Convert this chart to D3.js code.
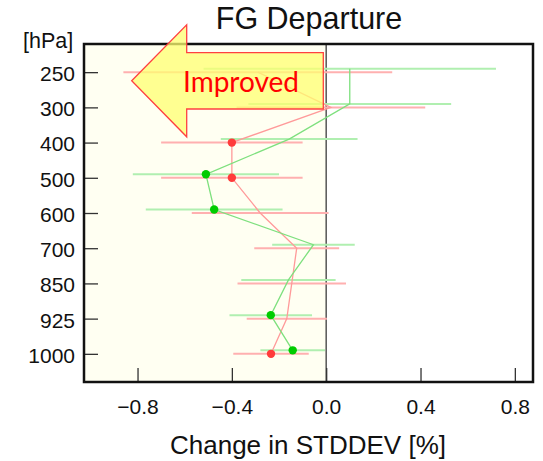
<!DOCTYPE html>
<html>
<head>
<meta charset="utf-8">
<script src="https://cdn.jsdelivr.net/npm/d3@7"></script>
<style>
  html, body { margin: 0; padding: 0; background: #fff; }
  svg { display: block; font-family: "Liberation Sans", Arial, sans-serif; }
</style>
</head>
<body>
<svg id="chart" width="543" height="461"></svg>
<script>
// ---- data ----
const levels = [250, 300, 400, 500, 600, 700, 850, 925, 1000];
const redMean  = [-0.29, 0.02, -0.40, -0.40, -0.28, -0.125, -0.146, -0.167, -0.234];
const redErr   = [0.57, 0.40, 0.30, 0.30, 0.29, 0.18, 0.23, 0.17, 0.16];
const redSig   = [0, 0, 1, 1, 0, 0, 0, 0, 1];
const greenMean = [0.10, 0.10, -0.157, -0.51, -0.475, -0.054, -0.16, -0.235, -0.142];
const greenErr  = [0.62, 0.43, 0.29, 0.31, 0.29, 0.175, 0.20, 0.175, 0.137];
const greenSig  = [0, 0, 0, 1, 1, 0, 0, 1, 1];
const xTicks = [-0.8, -0.4, 0.0, 0.4, 0.8];
const xDomain = [-1.027, 0.877];
const title = "FG Departure";
const xLabel = "Change in STDDEV [%]";
const yUnit = "[hPa]";
const arrowText = "Improved";

// ---- layout ----
const L = 84, R = 533, T = 44, B = 382;
const svg = d3.select("#chart");

const x = d3.scaleLinear().domain(xDomain).range([L, R]);
const y = d3.scalePoint().domain(levels).range([T, B]).padding(0.8);

// backgrounds
svg.append("rect").attr("x", L).attr("y", T).attr("width", x(0) - L).attr("height", B - T)
  .attr("fill", "#fffff2");

// zero line
svg.append("line").attr("x1", x(0)).attr("x2", x(0)).attr("y1", T).attr("y2", B)
  .attr("stroke", "#555").attr("stroke-width", 1.5);

// series
const series = [
  { mean: redMean, err: redErr, sig: redSig, off: 0, bar: "#ffb0b0", line: "#ff9a9a", dot: "#ff3b3b" },
  { mean: greenMean, err: greenErr, sig: greenSig, off: -3.5, bar: "#b0efb0", line: "#7ee07e", dot: "#00cc00" }
];

const plot = svg.append("g");
series.forEach(s => {
  const pts = levels.map((lv, i) => ({ lv, m: s.mean[i], e: s.err[i], sig: s.sig[i] }));
  plot.append("g").selectAll("line").data(pts).join("line")
    .attr("x1", d => x(d.m - d.e)).attr("x2", d => Math.min(x(d.m + d.e), R))
    .attr("y1", d => y(d.lv) + s.off).attr("y2", d => y(d.lv) + s.off)
    .attr("stroke", s.bar).attr("stroke-width", 2);
});
series.forEach(s => {
  const pts = levels.map((lv, i) => ({ lv, m: s.mean[i], sig: s.sig[i] }));
  plot.append("path").datum(pts)
    .attr("d", d3.line().x(d => x(d.m)).y(d => y(d.lv) + s.off))
    .attr("fill", "none").attr("stroke", s.line).attr("stroke-width", 1.3);
  plot.append("g").selectAll("circle").data(pts.filter(d => d.sig)).join("circle")
    .attr("cx", d => x(d.m)).attr("cy", d => y(d.lv) + s.off).attr("r", 4.2)
    .attr("fill", s.dot);
});

// axes (ticks inward)
const yAxis = svg.append("g").attr("transform", `translate(${L},0)`)
  .call(d3.axisLeft(y).tickSize(-14).tickPadding(9));
yAxis.select(".domain").remove();
yAxis.selectAll(".tick line").attr("stroke", "#333").attr("stroke-width", 1.3);
yAxis.selectAll("text").attr("font-size", 21).attr("fill", "#111")
  .attr("font-family", "'Liberation Sans', Arial, sans-serif").attr("dy", "0.4em");

const xAxis = svg.append("g").attr("transform", `translate(0,${B})`)
  .call(d3.axisBottom(x).tickValues(xTicks).tickFormat(d3.format(".1f")).tickSize(-14).tickPadding(17));
xAxis.select(".domain").remove();
xAxis.selectAll(".tick line").attr("stroke", "#333").attr("stroke-width", 1.3);
xAxis.selectAll("text").attr("font-size", 21).attr("fill", "#111")
  .attr("font-family", "'Liberation Sans', Arial, sans-serif");

// frame
svg.append("rect").attr("x", L).attr("y", T).attr("width", R - L).attr("height", B - T)
  .attr("fill", "none").attr("stroke", "#111").attr("stroke-width", 2.5);

// titles
svg.append("text").attr("x", 309).attr("y", 28.5).attr("text-anchor", "middle")
  .attr("font-size", 30.5).attr("fill", "#111").text(title);
svg.append("text").attr("x", 308).attr("y", 453.5).attr("text-anchor", "middle")
  .attr("font-size", 26).attr("fill", "#111").text(xLabel);
svg.append("text").attr("x", 23).attr("y", 47.5)
  .attr("font-size", 21.5).attr("fill", "#111").text(yUnit);

// "Improved" arrow annotation
const ax = 131.7, ay = 80.8, headX = 186.7, headH = 56, shaftH = 28.2, endX = 323.3;
const arrowPts = [
  [ax, ay], [headX, ay - headH], [headX, ay - shaftH], [endX, ay - shaftH],
  [endX, ay + shaftH], [headX, ay + shaftH], [headX, ay + headH]
];
svg.append("path").attr("d", "M" + arrowPts.map(p => p.join(",")).join("L") + "Z")
  .attr("fill", "#ffff70").attr("fill-opacity", 0.75)
  .attr("stroke", "#ff4040").attr("stroke-width", 1.3);
svg.append("text").attr("x", 241).attr("y", 91.5).attr("text-anchor", "middle")
  .attr("font-family", "Lato, 'Open Sans', sans-serif")
  .attr("font-size", 28).attr("fill", "#ff0000").text(arrowText);
</script>
</body>
</html>
